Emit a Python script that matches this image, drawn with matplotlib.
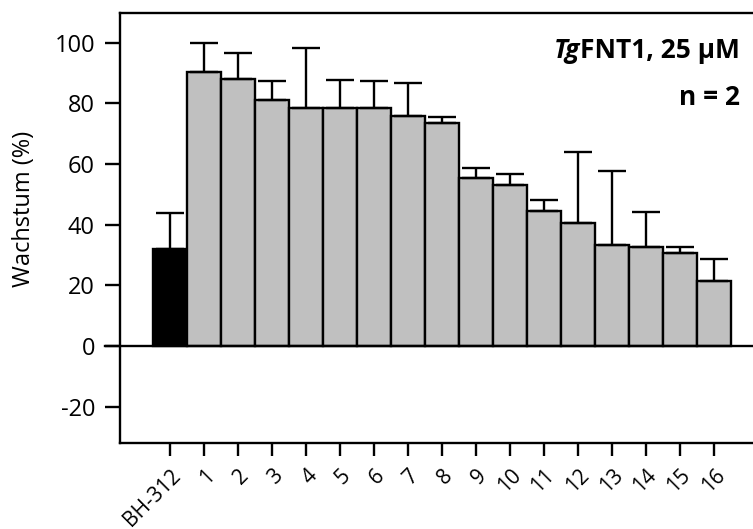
import matplotlib
matplotlib.use("Agg")
import matplotlib.pyplot as plt
import numpy as np

plt.rcParams['font.family'] = ['Open Sans', 'DejaVu Sans']
plt.rcParams['axes.unicode_minus'] = False

# Daten
labels = ["BH-312", "1", "2", "3", "4", "5", "6", "7", "8", "9", "10",
          "11", "12", "13", "14", "15", "16"]
wachstum = [31.9, 90.2, 88.0, 81.0, 78.4, 78.4, 78.4, 75.7, 73.4, 55.3, 53.1,
            44.6, 40.7, 33.4, 32.7, 30.6, 21.5]
fehler_oben = [43.8, 100.0, 96.5, 87.3, 98.4, 87.7, 87.4, 86.6, 75.6, 58.8, 56.7,
               48.0, 63.9, 57.8, 44.1, 32.5, 28.6]
farben = ["black"] + ["#c0c0c0"] * 16

x = np.arange(len(labels))
err = np.array(fehler_oben) - np.array(wachstum)

fig = plt.figure(figsize=(7.53, 5.29), dpi=100)
ax = fig.add_axes([120 / 753, 1 - 443.3 / 529, 680 / 753, 430 / 529])

ax.bar(x, wachstum, width=1.0, color=farben, edgecolor="black", linewidth=1.7, zorder=2)
ax.errorbar(x, wachstum, yerr=[np.zeros_like(err), err], fmt="none", ecolor="black",
            elinewidth=1.7, capsize=10, capthick=1.7, zorder=3)
ax.axhline(0, color="black", linewidth=1.7, zorder=4, clip_on=False,
           xmin=-15 / 680)

ax.set_xlim(-1.476, -1.476 + 680 / 34)
ax.set_ylim(-32.1, 109.7)
ax.set_yticks([-20, 0, 20, 40, 60, 80, 100])
ax.set_xticks(x)
ax.set_xticklabels(labels, rotation=45, ha="right", va="top", rotation_mode="anchor")

for s in ["left", "bottom", "top", "right"]:
    ax.spines[s].set_linewidth(1.7)
ax.tick_params(axis="y", length=11, width=1.7, labelsize=17, pad=7)
ax.tick_params(axis="x", length=9.5, width=1.7, labelsize=15, pad=6)

ax.set_ylabel("Wachstum (%)", fontsize=17)
ax.yaxis.set_label_coords(-0.123, 0.545)

# Beschriftung oben rechts
t = ax.text(740 / 753, 1 - 58 / 529, "FNT1, 25 µM", transform=fig.transFigure,
            ha="right", va="baseline", fontsize=19, fontweight="bold")
ax.annotate("Tg", xy=(0, 0), xycoords=t, ha="right", va="bottom",
            fontsize=19, fontweight="bold", fontstyle="italic")
ax.text(740 / 753, 1 - 105 / 529, "n = 2", transform=fig.transFigure,
        ha="right", va="baseline", fontsize=19, fontweight="bold")

fig.savefig("out.png", dpi=100)
